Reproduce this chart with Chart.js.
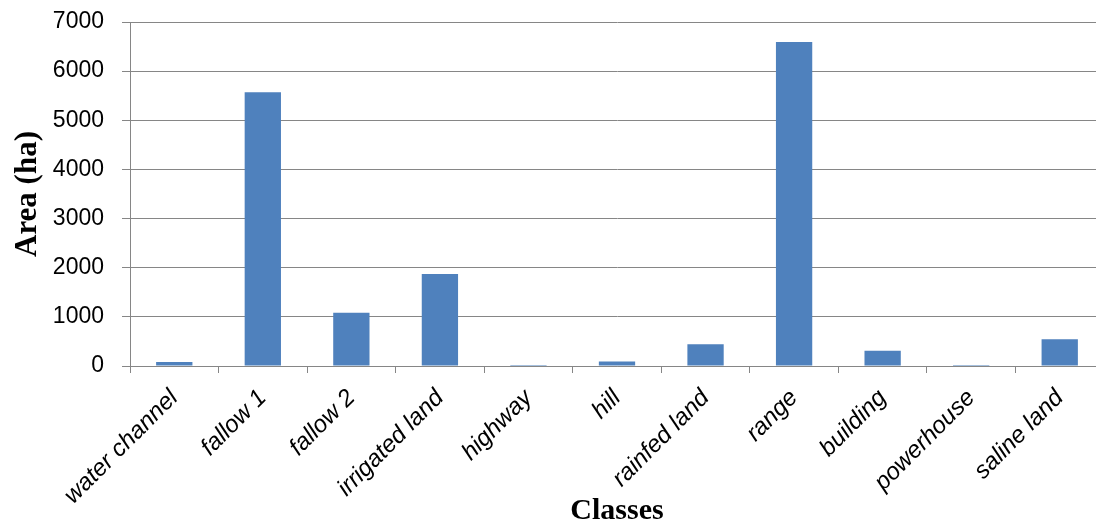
<!DOCTYPE html>
<html>
<head>
<meta charset="utf-8">
<script src="https://cdn.jsdelivr.net/npm/chart.js@4"></script>
<style>
  html, body { margin: 0; padding: 0; overflow: hidden; background: #ffffff; }
  #wrap { width: 1104px; height: 526px; }
</style>
</head>
<body>
<div id="wrap"><canvas id="c" width="1104" height="526"></canvas></div>
<script>
const categories = ["water channel", "fallow 1", "fallow 2", "irrigated land", "highway", "hill", "rainfed land", "range", "building", "powerhouse", "saline land"];
const areaValues = [80, 5570, 1085, 1872, 22, 90, 441, 6593, 311, 2, 543];
const yTicks = [0, 1000, 2000, 3000, 4000, 5000, 6000, 7000];
const yTitle = "Area (ha)";
const xTitle = "Classes";

const gridGrey = "#868686";

new Chart(document.getElementById("c"), {
  type: "bar",
  data: {
    labels: categories,
    datasets: [{
      label: yTitle,
      data: areaValues,
      backgroundColor: "#4F81BD",
      borderWidth: 0,
      barPercentage: 0.41,
      categoryPercentage: 1.0
    }]
  },
  options: {
    responsive: false,
    animation: false,
    devicePixelRatio: 1,
    layout: { padding: { top: 22, right: 0, bottom: 0, left: 0 } },
    plugins: { legend: { display: false }, tooltip: { enabled: false } },
    scales: {
      x: {
        offset: true,
        grid: { offset: true, drawOnChartArea: false, drawTicks: true, tickLength: 7, color: gridGrey, lineWidth: 1 },
        border: { display: true, color: gridGrey, width: 1 },
        ticks: {
          minRotation: 45, maxRotation: 45, autoSkip: false, padding: 11,
          color: "#000000",
          font: { family: "'Liberation Sans', Arial, sans-serif", size: 24, style: "italic" }
        },
        title: {
          display: true, text: xTitle, color: "#000000",
          font: { family: "'Liberation Serif', 'Times New Roman', serif", size: 30, weight: "bold", lineHeight: 1.0 },
          padding: { top: 0, bottom: 0 }
        },
        afterFit: (s) => { s.height = 160; }
      },
      y: {
        min: 0, max: 7000,
        afterBuildTicks: (s) => { s.ticks = yTicks.map(v => ({ value: v })); },
        grid: { drawTicks: true, tickLength: 8, color: gridGrey, lineWidth: 1 },
        border: { display: true, color: gridGrey, width: 1 },
        ticks: {
          padding: 18, color: "#000000",
          font: { family: "'Liberation Sans', Arial, sans-serif", size: 23 },
          callback: (v) => String(v)
        },
        title: {
          display: true, text: yTitle, color: "#000000",
          font: { family: "'Liberation Serif', 'Times New Roman', serif", size: 31, weight: "bold", lineHeight: 1.2 },
          padding: { top: 9, bottom: 0 }
        },
        afterFit: (s) => { s.width = 130; s.paddingTop = 0; s.paddingBottom = 0; }
      }
    }
  }
});
</script>
</body>
</html>
